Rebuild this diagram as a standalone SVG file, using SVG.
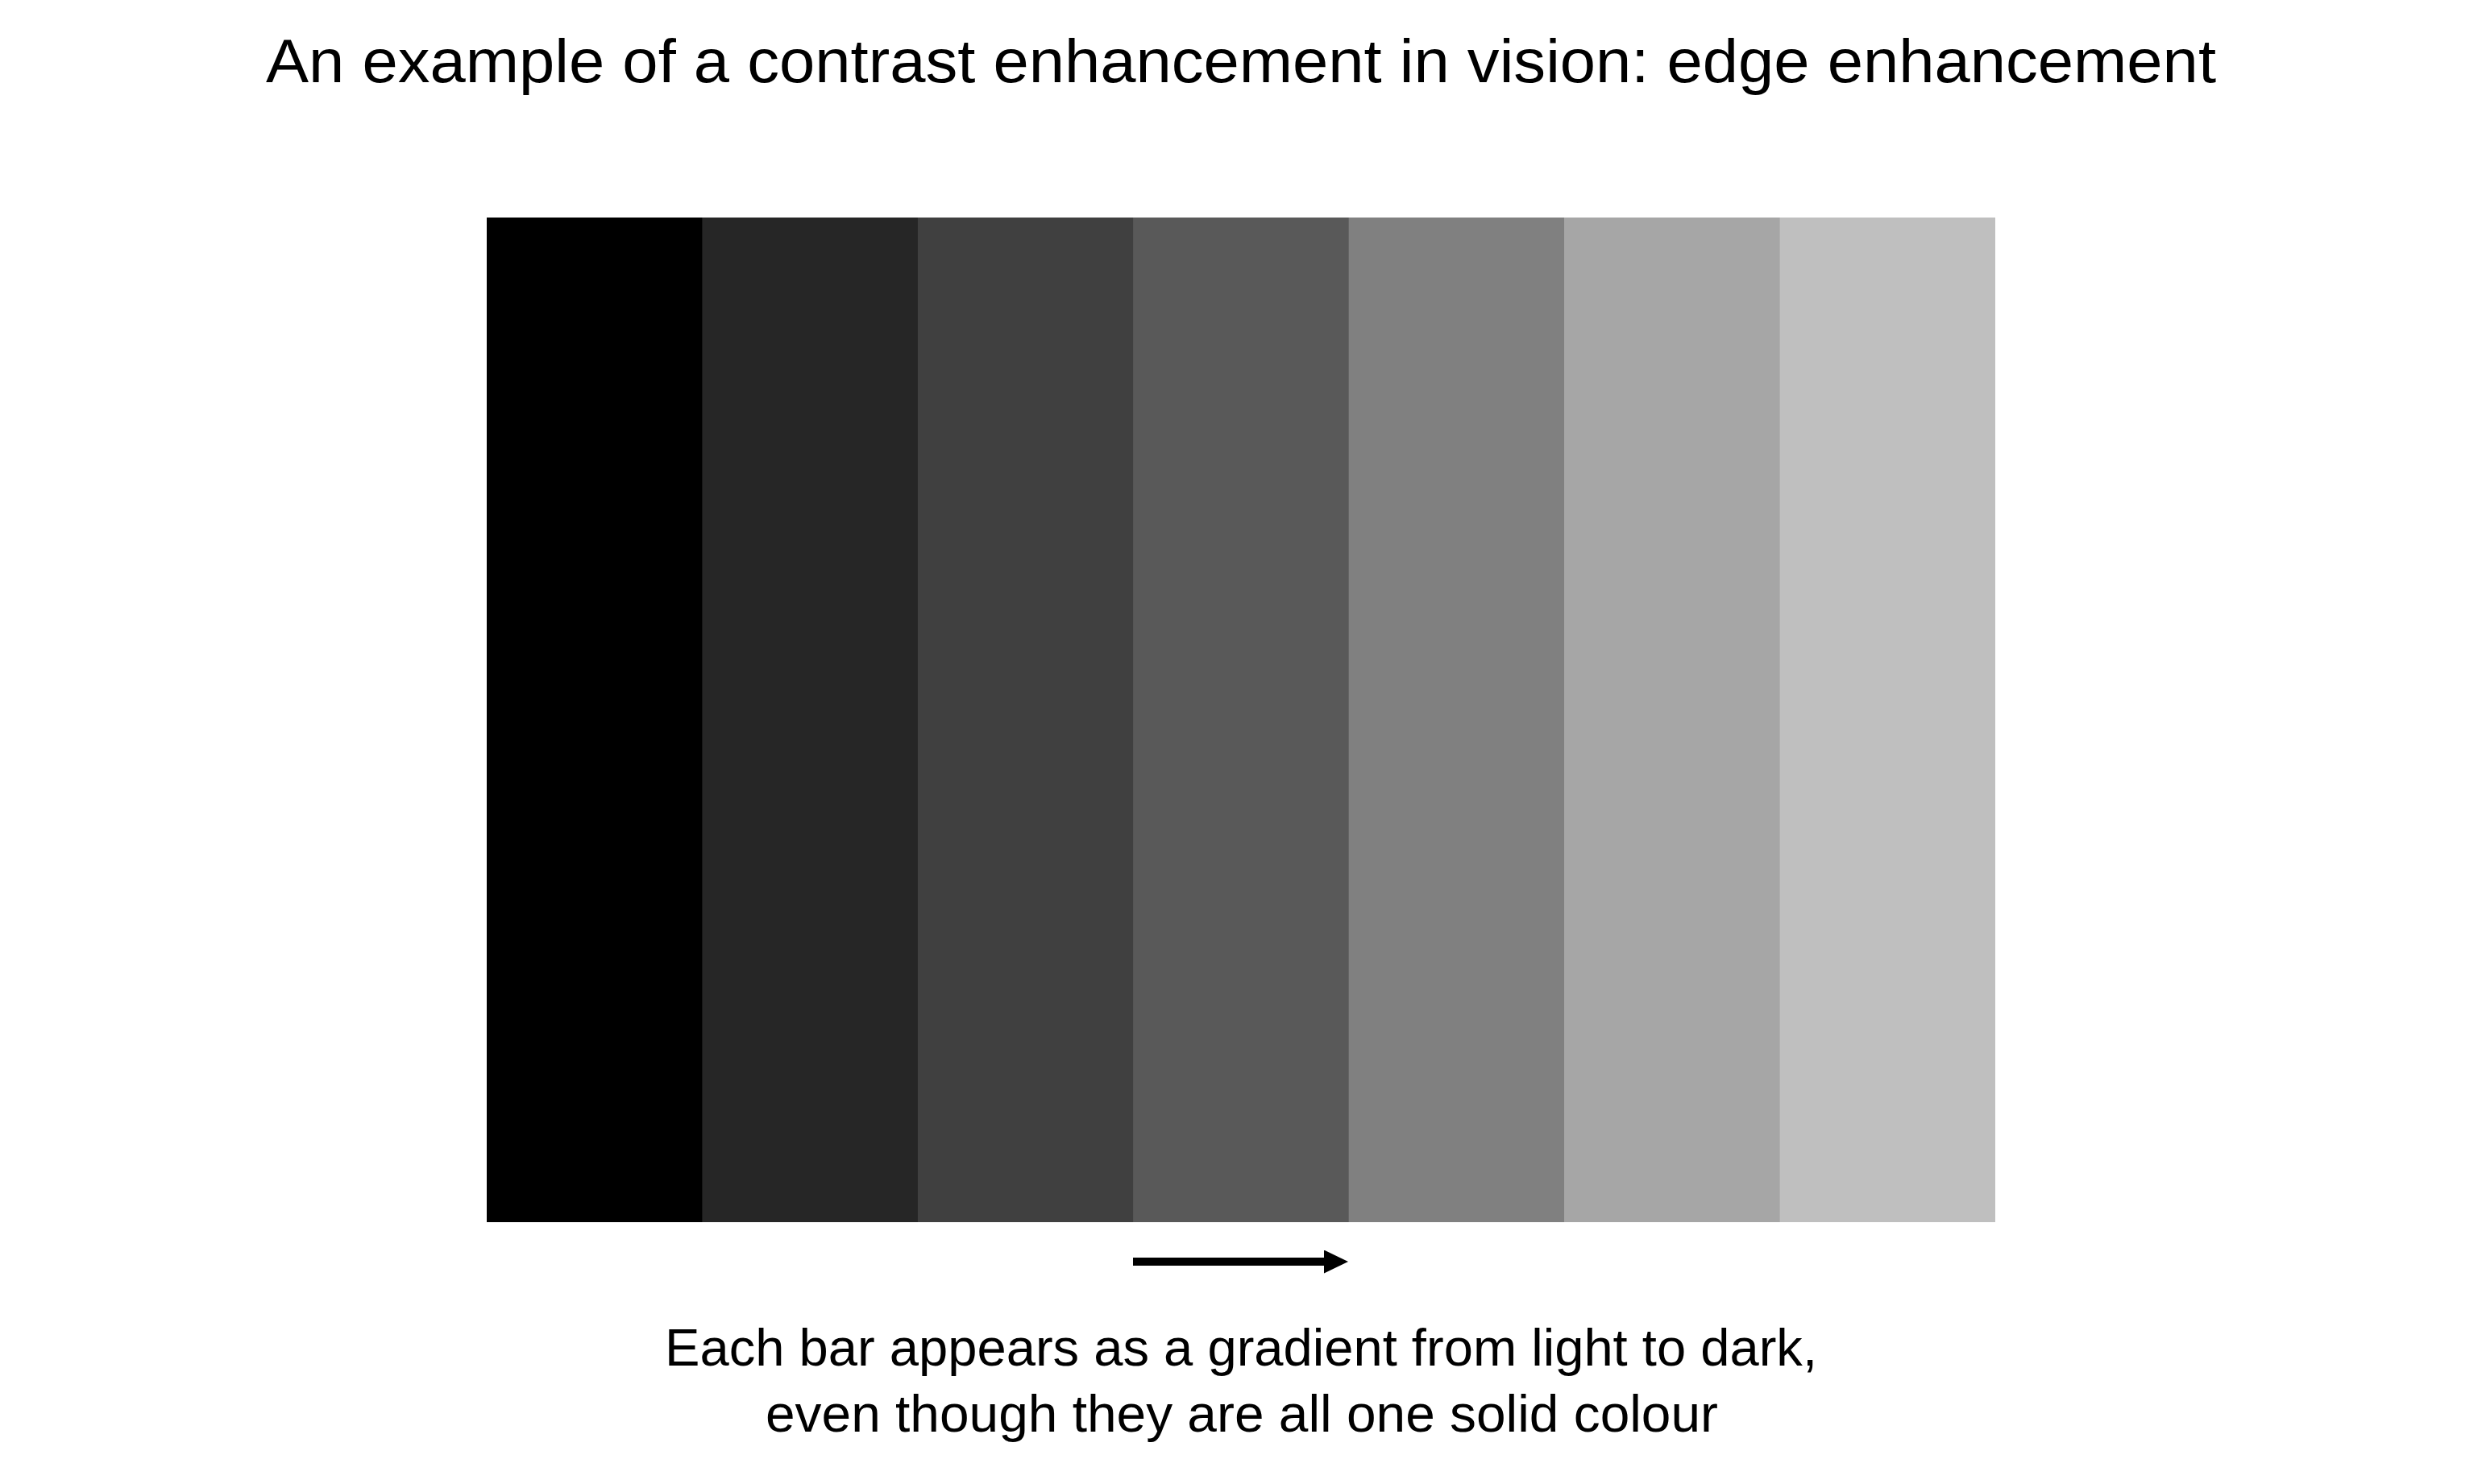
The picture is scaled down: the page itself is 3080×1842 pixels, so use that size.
<svg xmlns="http://www.w3.org/2000/svg" width="3080" height="1842" viewBox="0 0 3080 1842">
<style>
.t{font-family:"Liberation Sans","Open Sans",Arial,sans-serif;fill:#000;text-anchor:middle}
.title{font-size:76px}
.cap{font-size:64px}
</style>
<defs>
<marker id="ah" markerUnits="userSpaceOnUse" markerWidth="31" markerHeight="30" refX="0" refY="14.5" orient="auto">
<path d="M0,0 L30,14.5 L0,29 z" fill="#000"/>
</marker>
</defs>
<rect width="3080" height="1842" fill="#fff"/>
<g id="title"><text class="t title" x="1540" y="102" textLength="2420" lengthAdjust="spacingAndGlyphs">An example of a contrast enhancement in vision: edge enhancement</text></g>
<g id="bars">
<rect id="bar1" x="604" y="270" width="268" height="1247" fill="#000000"/>
<rect id="bar2" x="871.4" y="270" width="268" height="1247" fill="#262626"/>
<rect id="bar3" x="1138.9" y="270" width="268" height="1247" fill="#404040"/>
<rect id="bar4" x="1406.3" y="270" width="268" height="1247" fill="#595959"/>
<rect id="bar5" x="1673.7" y="270" width="268" height="1247" fill="#808080"/>
<rect id="bar6" x="1941.1" y="270" width="268" height="1247" fill="#a6a6a6"/>
<rect id="bar7" x="2208.6" y="270" width="267.4" height="1247" fill="#bfbfbf"/>
</g>
<g id="connectors">
<line x1="1406" y1="1566" x2="1643" y2="1566" stroke="#000" stroke-width="10" marker-end="url(#ah)"/>
</g>
<g id="caption">
<text class="t cap" x="1540" y="1695" textLength="1430" lengthAdjust="spacingAndGlyphs">Each bar appears as a gradient from light to dark,</text>
<text class="t cap" x="1541" y="1777" textLength="1182" lengthAdjust="spacingAndGlyphs">even though they are all one solid colour</text>
</g>
</svg>
